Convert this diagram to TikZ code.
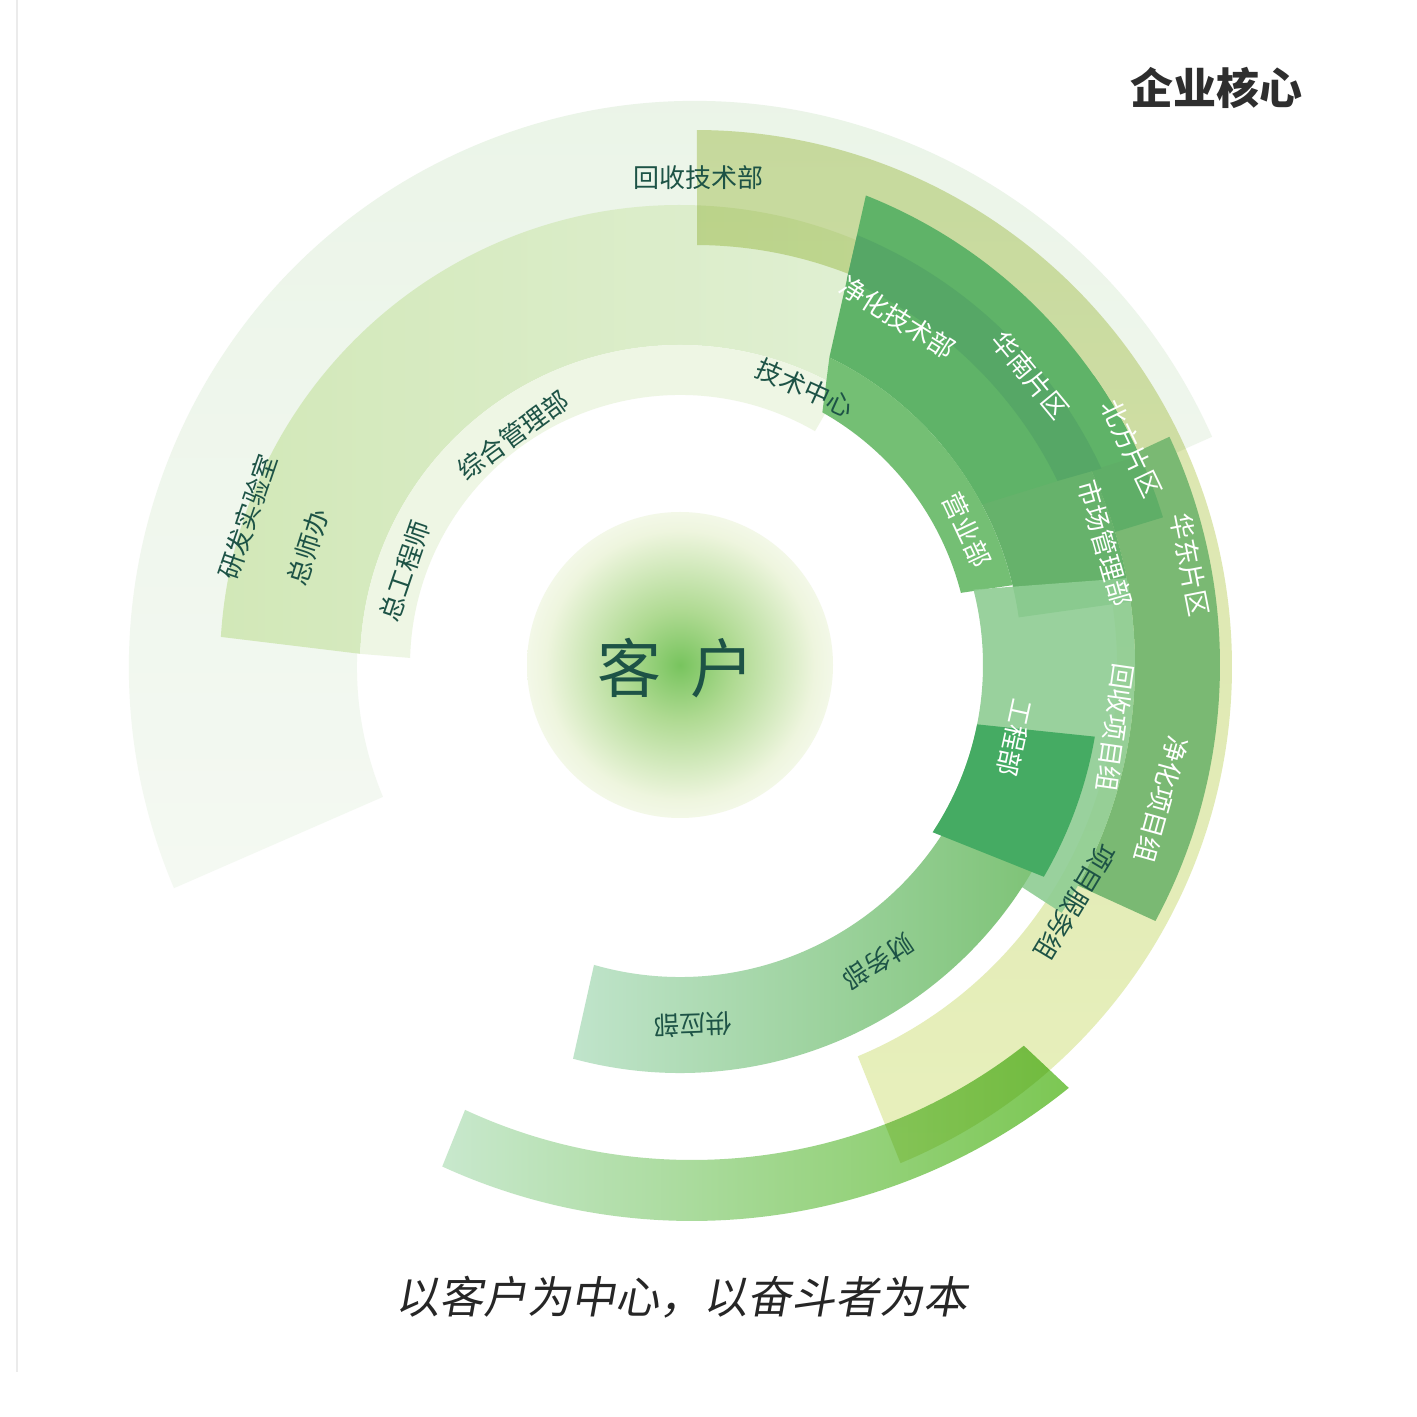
\documentclass[tikz,border=0pt]{standalone}
\usepackage{fontspec}
\setmainfont{Noto Sans CJK SC}
\newfontfamily\mottofont[FakeSlant=0.18]{Noto Sans CJK SC}
\usepackage{tikz}
\usetikzlibrary{positioning}
\usetikzlibrary{calc}

\definecolor{paleT}{HTML}{EAF4E7}
\definecolor{paleB}{HTML}{F4F9F2}
\definecolor{bandBl}{HTML}{D2E8B8}
\definecolor{bandBr}{HTML}{E3F1D8}
\definecolor{bandC}{HTML}{EEF6E4}
\definecolor{yelT}{HTML}{D7E2AC}
\definecolor{yelB}{HTML}{E8F0BC}
\definecolor{eastG}{HTML}{7AB973}
\definecolor{marketG}{HTML}{66B26B}
\definecolor{northG}{HTML}{5FAE67}
\definecolor{purifG}{HTML}{5FB368}
\definecolor{southG}{HTML}{56A766}
\definecolor{salesG}{HTML}{74BF74}
\definecolor{recovG}{HTML}{8ECD93}
\definecolor{supplyL}{HTML}{C0E4CB}
\definecolor{supplyR}{HTML}{7CC274}
\definecolor{engG}{HTML}{45AB63}
\definecolor{bottomL}{HTML}{C8E8CD}
\definecolor{bottomR}{HTML}{7CC753}
\definecolor{discIn}{HTML}{78C45E}
\definecolor{discMid}{HTML}{AFDA92}
\definecolor{discOut}{HTML}{EEF5DE}
\definecolor{darkteal}{HTML}{1D5346}
\definecolor{titlegray}{HTML}{2E2E2E}

\pgfdeclareradialshading{clientglow}{\pgfpoint{0bp}{0bp}}{%
  color(0bp)=(discIn); color(9bp)=(discMid); color(22bp)=(discOut);
  color(25bp)=(discOut!70!white); color(50bp)=(white)}

% #2 centre, #3/#4 outer start/end angle, #5/#6 inner start/end angle, #7 inner radius, #8 outer radius
\newcommand{\arcband}[8][]{%
  \path[#1,shift={(#2)}] (#3:#8) arc[start angle=#3, end angle=#4, radius=#8]
    -- (#6:#7) arc[start angle=#6, end angle=#5, radius=#7] -- cycle;}

\begin{document}
\begin{tikzpicture}[x=1pt, y=1pt,
    lbl/.style={font=\fontsize{26}{26}\selectfont, text=darkteal, inner sep=0pt},
    wlbl/.style={lbl, text=white}]
    \useasboundingbox (0,0) rectangle (1417,1417);
    \fill[white] (0,0) rectangle (1417,1417);
    \draw[black!8, line width=1.2] (17,1417) -- (17,45);

    \coordinate (O) at (680,752);
    \coordinate (Oa) at (695,750);
    \coordinate (Of) at (692,796);

    \arcband[top color=paleT, bottom color=paleB]{Oa}{203}{24}{202.6}{24}{338}{566}
    \arcband[left color=bandBl, right color=bandBr]{O}{176.5}{45}{178}{45}{320}{460}
    \arcband[fill=bandC]{O}{178}{60}{178.5}{60}{270}{320}
    \begin{scope}[blend mode=multiply]
        \arcband[top color=yelT, bottom color=yelB]{Oa}{89.8}{-67.5}{89.7}{-67.3}{422}{537}
    \end{scope}

    \arcband[fill=eastG]{O}{25}{-28.3}{25}{-29}{455}{540}
    \arcband[fill=marketG]{O}{40}{8}{40}{8}{342}{455}
    \arcband[fill=northG]{O}{35}{17}{35}{17}{455}{505}
    \arcband[fill=purifG]{O}{68.4}{24.5}{64.1}{28}{342}{505}
    \arcband[fill=southG]{O}{67.6}{25}{66.6}{26}{420}{465}
    \arcband[fill=salesG]{O}{64.1}{13.5}{60.6}{14.4}{290}{342}
    \arcband[fill=recovG, opacity=0.9]{O}{11}{-33}{14.4}{-33}{303}{455}
    \arcband[left color=supplyL, right color=supplyR]{O}{-24}{-105.2}{-24}{-106}{312}{408}
    \arcband[fill=engG]{O}{-9.8}{-30.2}{-11.3}{-33.5}{303}{421}
    \begin{scope}[blend mode=multiply]
        \arcband[left color=bottomL, right color=bottomR]{Of}{-51.1}{-114.6}{-52}{-114.9}{539}{600}
    \end{scope}

    \shade[shading=clientglow] (O) circle[radius=153];
    \node[font=\fontsize{64}{64}\selectfont, text=darkteal] (client) at (676,749) {客\hspace{0.45em}户};

    \node[lbl] (recov_tech) at (698,1239) {回收技术部};
    \node[lbl, rotate=-24.3] (tech_center) at ($(O)+(65.7:304)$) {技术中心};
    \node[lbl, rotate=36] (admin) at ($(O)+(126:284)$) {综合管理部};
    \node[lbl, rotate=71.1] (chief_eng) at ($(O)+(161.1:291)$) {总工程师};
    \node[lbl, rotate=72.4] (chief_office) at ($(O)+(162.4:390)$) {总师办};
    \node[lbl, rotate=71.1] (rd_lab) at ($(O)+(161.1:457)$) {研发实验室};
    \node[lbl, rotate=-121] (proj_service) at ($(O)+(-31:461)$) {项目服务组};
    \node[lbl, rotate=-146.3] (finance) at ($(O)+(-56.3:357)$) {财务部};
    \node[lbl, rotate=-178] (supply) at ($(O)+(-88:360)$) {供应部};

    \node[wlbl, rotate=-32.1] (purif_tech) at ($(O)+(57.9:410)$) {净化技术部};
    \node[wlbl, rotate=-50.4] (south) at ($(O)+(39.6:455)$) {华南片区};
    \node[wlbl, rotate=-64.4] (north) at ($(O)+(25.6:501)$) {北方片区};
    \node[wlbl, rotate=-78.9] (east) at ($(O)+(11.1:520)$) {华东片区};
    \node[wlbl, rotate=-74] (market) at ($(O)+(16:442)$) {市场管理部};
    \node[wlbl, rotate=-64.8] (sales) at ($(O)+(25.2:317)$) {营业部};
    \node[wlbl, rotate=-98.2] (recov_proj) at ($(O)+(-8.2:440)$) {回收项目组};
    \node[wlbl, rotate=-105.6] (purif_proj) at ($(O)+(-15.6:500)$) {净化项目组};
    \node[wlbl, rotate=-102.3] (engineering) at ($(O)+(-12.3:343)$) {工程部};

    \node[font=\fontsize{43}{43}\selectfont\bfseries, text=titlegray] (core) at (1216,1329) {企业核心};
    \node[font=\mottofont\fontsize{44}{44}\selectfont, text=black!85] (motto) at (681,120) {以客户为中心，以奋斗者为本};
\end{tikzpicture}
\end{document}
